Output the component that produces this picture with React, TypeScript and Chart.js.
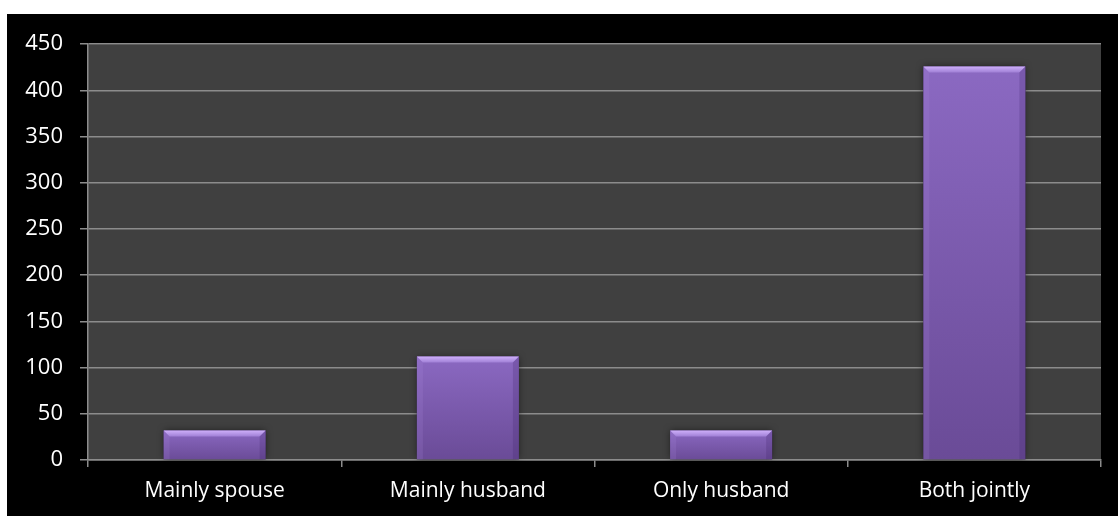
import React, { useEffect, useRef } from "react";
import { Chart, registerables } from "chart.js";
Chart.register(...registerables);

const categories = ["Mainly spouse", "Mainly husband", "Only husband", "Both jointly"];
const values = [32, 112, 32, 426];
const yMin = 0;
const yMax = 450;
const yStep = 50;

const plotBg = {
  id: "plotBg",
  beforeDraw(chart: any) {
    const { ctx, chartArea: a } = chart;
    ctx.save();
    ctx.fillStyle = "#404040";
    ctx.fillRect(a.left, a.top, a.right - a.left, a.bottom - a.top);
    ctx.restore();
  },
};

const barShadow = {
  id: "barShadow",
  beforeDatasetsDraw(chart: any) {
    const ctx = chart.ctx;
    const meta = chart.getDatasetMeta(0);
    ctx.save();
    meta.data.forEach((bar: any) => {
      const { x, y, base, width } = bar.getProps(["x", "y", "base", "width"], true);
      ctx.shadowColor = "rgba(0,0,0,0.6)";
      ctx.shadowBlur = 7;
      ctx.fillStyle = "rgba(30,20,40,0.9)";
      ctx.fillRect(x - width / 2, y, width, base - y);
    });
    ctx.restore();
  },
};

const bevel = {
  id: "bevel",
  afterDatasetsDraw(chart: any) {
    const ctx = chart.ctx;
    const meta = chart.getDatasetMeta(0);
    ctx.save();
    meta.data.forEach((bar: any) => {
      const { x, y, base, width } = bar.getProps(["x", "y", "base", "width"], true);
      const l = x - width / 2;
      const r = x + width / 2;
      const b = Math.min(6, (base - y) / 3);
      const tg = ctx.createLinearGradient(0, y, 0, y + b);
      tg.addColorStop(0, "#cfb0fa");
      tg.addColorStop(1, "#a080d6");
      ctx.fillStyle = tg;
      ctx.beginPath();
      ctx.moveTo(l, y);
      ctx.lineTo(r, y);
      ctx.lineTo(r - b, y + b);
      ctx.lineTo(l + b, y + b);
      ctx.closePath();
      ctx.fill();
      ctx.fillStyle = "rgba(170,140,220,0.18)";
      ctx.beginPath();
      ctx.moveTo(l, y);
      ctx.lineTo(l + b, y + b);
      ctx.lineTo(l + b, base);
      ctx.lineTo(l, base);
      ctx.closePath();
      ctx.fill();
      ctx.fillStyle = "rgba(60,30,100,0.22)";
      ctx.beginPath();
      ctx.moveTo(r, y);
      ctx.lineTo(r - b, y + b);
      ctx.lineTo(r - b, base);
      ctx.lineTo(r, base);
      ctx.closePath();
      ctx.fill();
    });
    ctx.restore();
  },
};

export default function App() {
  const ref = useRef<HTMLCanvasElement | null>(null);
  useEffect(() => {
    if (!ref.current) return;
    const chart = new Chart(ref.current, {
      type: "bar",
      data: {
        labels: categories,
        datasets: [
          {
            data: values,
            backgroundColor: (c: any) => {
              const ch = c.chart;
              const ys = ch.scales && ch.scales.y;
              if (!ys || !c.parsed) return "#7b59ad";
              const top = ys.getPixelForValue(c.parsed.y);
              const base = ys.getPixelForValue(0);
              if (!isFinite(top) || !isFinite(base) || top === base) return "#7b59ad";
              const g = ch.ctx.createLinearGradient(0, top, 0, base);
              g.addColorStop(0, "#8b69c2");
              g.addColorStop(1, "#6a4b97");
              return g;
            },
            borderWidth: 0,
            categoryPercentage: 1,
            barPercentage: 0.403,
          },
        ],
      },
      options: {
        animation: false,
        responsive: true,
        maintainAspectRatio: false,
        layout: { padding: { left: 0, right: 17, top: 29, bottom: 0 } },
        plugins: { legend: { display: false }, tooltip: { enabled: false } },
        scales: {
          x: {
            afterFit: (s: any) => {
              s.height = 56;
            },
            grid: {
              drawOnChartArea: false,
              drawTicks: true,
              tickLength: 7,
              color: "#8c8c8c",
              lineWidth: 1.5,
            },
            border: { display: true, color: "#8c8c8c", width: 1.5 },
            ticks: {
              color: "#ffffff",
              padding: 11,
              font: { family: "'Open Sans', sans-serif", size: 21 },
              maxRotation: 0,
            },
          },
          y: {
            min: yMin,
            max: yMax,
            afterFit: (s: any) => {
              s.width = 81;
            },
            grid: {
              color: "#8c8c8c",
              lineWidth: 1.5,
              tickLength: 8,
              drawTicks: true,
            },
            border: { display: true, color: "#8c8c8c", width: 1.5 },
            ticks: {
              stepSize: yStep,
              color: "#ffffff",
              padding: 17,
              font: { family: "'Open Sans', sans-serif", size: 22 },
            },
          },
        },
      },
      plugins: [plotBg, barShadow, bevel],
    });
    return () => chart.destroy();
  }, []);
  return (
    <div
      style={{
        position: "absolute",
        left: 7,
        top: 14,
        width: 1111,
        height: 502,
        background: "#000000",
      }}
    >
      <canvas ref={ref} />
    </div>
  );
}
